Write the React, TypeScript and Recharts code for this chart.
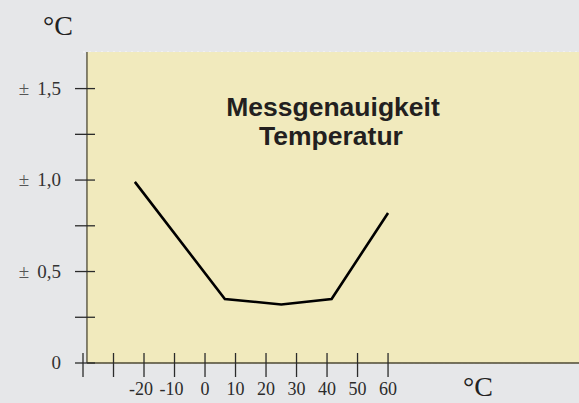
import React from "react";
import {
  LineChart,
  Line,
  XAxis,
  YAxis,
  CartesianGrid,
  ReferenceArea,
  ReferenceLine,
  Label,
} from "recharts";

// Tick values and labels
const xTicks = [-40, -30, -20, -10, 0, 10, 20, 30, 40, 50, 60];
const xTickLabels = ["", "", "-20", "-10", "0", "10", "20", "30", "40", "50", "60"];
const yTicks = [0, 0.25, 0.5, 0.75, 1, 1.25, 1.5];
const yTickLabels = ["0", "", "0,5", "", "1,0", "", "1,5"];
const yTickPrefix = ["", "", "±", "", "±", "", "±"];

// Series: ambient temperature (°C) vs. measuring accuracy (± °C)
const ambientTemp = [-23, 6.5, 25, 41.5, 60];
const accuracy = [0.99, 0.35, 0.32, 0.35, 0.82];

const titleLines = ["Messgenauigkeit", "Temperatur"];
const unitLabel = "°C";

const X_DOMAIN: [number, number] = [-40, 122.6];
const Y_DOMAIN: [number, number] = [0, 1.7];
const PLOT_LEFT_VALUE = -38.7;

const data = ambientTemp.map((t, i) => ({ t, acc: accuracy[i] }));

const SERIF = "'Liberation Serif', 'Times New Roman', serif";
const SANS = "'Liberation Sans', Arial, sans-serif";

const renderXTick = (props: any) => {
  const { x, y, payload } = props;
  const idx = xTicks.indexOf(payload.value);
  const label = idx >= 0 ? xTickLabels[idx] : "";
  const neg = label.startsWith("-");
  const digits = neg ? label.slice(1) : label;
  const fs = 18;
  const half = (digits.length * 0.5 * fs) / 2;
  return (
    <g>
      <line x1={x} x2={x} y1={y - 10} y2={y + 14} stroke="#2b2b2b" strokeWidth={1.3} />
      {digits && (
        <text x={x} y={y + 32} textAnchor="middle" fontFamily={SERIF} fontSize={fs} fill="#2b2b2b">
          {digits}
        </text>
      )}
      {neg && (
        <text x={x - half} y={y + 32} textAnchor="end" fontFamily={SERIF} fontSize={fs} fill="#2b2b2b">
          -
        </text>
      )}
    </g>
  );
};

const renderYTick = (props: any) => {
  const { x, y, payload } = props;
  const idx = yTicks.indexOf(payload.value);
  const label = idx >= 0 ? yTickLabels[idx] : "";
  const prefix = idx >= 0 ? yTickPrefix[idx] : "";
  return (
    <g>
      <line x1={x - 8} x2={x + 12} y1={y} y2={y} stroke="#2b2b2b" strokeWidth={1.3} />
      {label && (
        <text x={x - 22} y={y + 6} textAnchor="end" fontFamily={SERIF} fontSize={19} fill="#333">
          {prefix && (
            <tspan fontSize={19} fill="#555">
              {prefix}
            </tspan>
          )}
          {prefix && <tspan dx={8}>{label}</tspan>}
          {!prefix && label}
        </text>
      )}
    </g>
  );
};

const renderAnnotations = () => (
  <g>
    <text x={43} y={35} fontFamily={SERIF} fontSize={28} fill="#222">
      {unitLabel}
    </text>
    <text x={463} y={396} fontFamily={SERIF} fontSize={28} fill="#222">
      {unitLabel}
    </text>
    <text x={333} y={116} textAnchor="middle" fontFamily={SANS} fontWeight="bold" fontSize={26.5} fill="#231f20">
      {titleLines[0]}
    </text>
    <text x={331} y={145} textAnchor="middle" fontFamily={SANS} fontWeight="bold" fontSize={26.5} fill="#231f20">
      {titleLines[1]}
    </text>
  </g>
);

export default function App() {
  return (
    <div
      style={{
        position: "absolute",
        left: 0,
        top: 0,
        width: 579,
        height: 403,
        background: "#e6e7e9",
      }}
    >
      <LineChart
        width={579}
        height={403}
        data={data}
        margin={{ top: 52, right: 0, bottom: 0, left: 0 }}
      >
        <ReferenceArea
          x1={PLOT_LEFT_VALUE}
          x2={X_DOMAIN[1]}
          y1={Y_DOMAIN[0]}
          y2={Y_DOMAIN[1]}
          fill="#f1eabd"
          fillOpacity={1}
          stroke="none"
          ifOverflow="visible"
        />
        <CartesianGrid
          vertical={false}
          stroke="#ffffff"
          strokeOpacity={0.8}
          strokeDasharray="2 4"
        />
        <XAxis
          dataKey="t"
          type="number"
          domain={X_DOMAIN}
          ticks={xTicks}
          interval={0}
          allowDataOverflow
          height={40}
          axisLine={false}
          tickLine={false}
          tickSize={0}
          tickMargin={0}
          tick={renderXTick}
        >
          <Label content={renderAnnotations} />
        </XAxis>
        <YAxis
          type="number"
          domain={Y_DOMAIN}
          ticks={yTicks}
          interval={0}
          allowDataOverflow
          width={83}
          axisLine={false}
          tickLine={false}
          tickSize={0}
          tickMargin={0}
          tick={renderYTick}
        />
        <ReferenceLine
          segment={[
            { x: PLOT_LEFT_VALUE, y: Y_DOMAIN[0] },
            { x: PLOT_LEFT_VALUE, y: Y_DOMAIN[1] },
          ]}
          stroke="#4d4833"
          strokeWidth={1.3}
          ifOverflow="visible"
        />
        <ReferenceLine
          segment={[
            { x: PLOT_LEFT_VALUE, y: Y_DOMAIN[0] },
            { x: X_DOMAIN[1], y: Y_DOMAIN[0] },
          ]}
          stroke="#4d4833"
          strokeWidth={1.3}
          ifOverflow="visible"
        />
        <Line
          dataKey="acc"
          type="linear"
          stroke="#000"
          strokeWidth={2.6}
          dot={false}
          isAnimationActive={false}
        />
      </LineChart>
    </div>
  );
}
